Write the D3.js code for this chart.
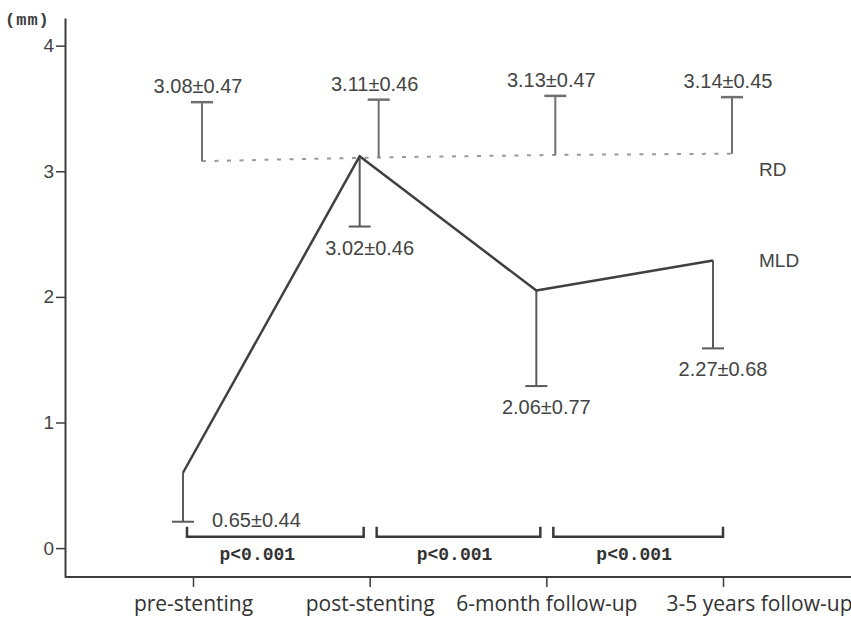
<!DOCTYPE html>
<html>
<head>
<meta charset="utf-8">
<script src="https://cdn.jsdelivr.net/npm/d3@7"></script>
<style>
  body { margin: 0; background: #fff; }
  svg { display: block; }
</style>
</head>
<body>
<div id="chart"></div>
<script>
const categories = ["pre-stenting", "post-stenting", "6-month follow-up", "3-5 years follow-up"];
const rdMean = [3.08, 3.11, 3.13, 3.14];
const rdSd = [0.47, 0.46, 0.47, 0.45];
const mldMean = [0.65, 3.02, 2.06, 2.27];
const mldSd = [0.44, 0.46, 0.77, 0.68];
// MLD line vertices as they are drawn in the figure
const mldDrawn = [0.6, 3.12, 2.05, 2.29];
const pLabels = ["p<0.001", "p<0.001", "p<0.001"];
const yTicks = [0, 1, 2, 3, 4];

const width = 851;
const height = 622;
const axisLeft = 65;
const axisBottom = 577;
const ink = "#3d3d3d";
const fmt = d3.format(".2f");

const svg = d3
  .select("#chart")
  .append("svg")
  .attr("width", width)
  .attr("height", height)
  .attr("viewBox", [0, 0, width, height]);

const x = d3.scalePoint().domain(categories).range([193, 723]);

const y = d3.scaleLinear().domain([-0.23, 4.22]).range([axisBottom, 18]);

const mldX = (i) => x(categories[i]) - 10;
const rdX = (i) => x(categories[i]) + 9;

/* AXES */
const yAxis = svg
  .append("g")
  .attr("transform", `translate(${axisLeft},0)`)
  .call(
    d3
      .axisLeft(y)
      .tickValues(yTicks)
      .tickFormat(d3.format("d"))
      .tickSize(9)
      .tickSizeOuter(0)
      .tickPadding(2)
  );

yAxis.select(".domain").attr("stroke", ink).attr("stroke-width", 2);
yAxis.selectAll(".tick line").attr("stroke", ink).attr("stroke-width", 1.5);
yAxis
  .selectAll(".tick text")
  .attr("fill", "#444")
  .style("font-family", "'Liberation Sans', Arial, sans-serif")
  .style("font-size", "19px");

const xAxis = svg
  .append("g")
  .attr("transform", `translate(0,${axisBottom})`)
  .call(d3.axisBottom(x).tickSize(10).tickSizeOuter(0).tickPadding(9));

xAxis.select(".domain").remove();
xAxis
  .append("line")
  .attr("x1", axisLeft)
  .attr("x2", width)
  .attr("stroke", ink)
  .attr("stroke-width", 2);
xAxis.selectAll(".tick line").attr("stroke", ink).attr("stroke-width", 1.5);
xAxis
  .selectAll(".tick text")
  .attr("fill", "#333")
  .style("font-family", "'Open Sans', sans-serif")
  .style("font-size", "21px")
  .each(function (d, i) {
    // the last label runs to the right edge of the picture
    if (i === categories.length - 1) {
      d3.select(this)
        .attr("text-anchor", "end")
        .attr("x", width - x(d) + 1);
    }
  });

svg
  .append("text")
  .attr("x", 5)
  .attr("y", 25)
  .attr("fill", ink)
  .style("font-family", "'Liberation Mono', monospace")
  .style("font-weight", "bold")
  .style("font-size", "17px")
  .style("letter-spacing", "1px")
  .text("(mm)");

/* RD */
const rdLine = d3
  .line()
  .x((d, i) => rdX(i))
  .y((d) => y(d));

svg
  .append("path")
  .datum(rdMean)
  .attr("fill", "none")
  .attr("stroke", "#9a9a9a")
  .attr("stroke-width", 2)
  .attr("stroke-dasharray", "4,8.5")
  .attr("d", rdLine);

const rd = svg
  .selectAll(".rd-bar")
  .data(rdMean)
  .join("g")
  .attr("class", "rd-bar");

rd.append("line")
  .attr("x1", (d, i) => rdX(i))
  .attr("x2", (d, i) => rdX(i))
  .attr("y1", (d) => y(d))
  .attr("y2", (d, i) => y(d + rdSd[i]))
  .attr("stroke", "#707070")
  .attr("stroke-width", 2);

rd.append("line")
  .attr("x1", (d, i) => rdX(i) - 11)
  .attr("x2", (d, i) => rdX(i) + 11)
  .attr("y1", (d, i) => y(d + rdSd[i]))
  .attr("y2", (d, i) => y(d + rdSd[i]))
  .attr("stroke", "#707070")
  .attr("stroke-width", 2.5);

rd.append("text")
  .attr("x", (d, i) => rdX(i) - 4)
  .attr("y", (d, i) => y(d + rdSd[i]) - 9)
  .attr("text-anchor", "middle")
  .attr("fill", "#444")
  .style("font-family", "'Liberation Sans', Arial, sans-serif")
  .style("font-size", "20px")
  .text((d, i) => `${fmt(d)}±${fmt(rdSd[i])}`);

/* MLD */
const mld = svg
  .selectAll(".mld-bar")
  .data(mldMean)
  .join("g")
  .attr("class", "mld-bar");

mld.append("line")
  .attr("x1", (d, i) => mldX(i))
  .attr("x2", (d, i) => mldX(i))
  .attr("y1", (d, i) => y(mldDrawn[i]))
  .attr("y2", (d, i) => y(d - mldSd[i]))
  .attr("stroke", "#5a5a5a")
  .attr("stroke-width", 2);

mld.append("line")
  .attr("x1", (d, i) => mldX(i) - 11)
  .attr("x2", (d, i) => mldX(i) + 11)
  .attr("y1", (d, i) => y(d - mldSd[i]))
  .attr("y2", (d, i) => y(d - mldSd[i]))
  .attr("stroke", "#5a5a5a")
  .attr("stroke-width", 2);

mld.append("text")
  .attr("x", (d, i) => (i === 0 ? mldX(i) + 29 : mldX(i) + 10))
  .attr("y", (d, i) => y(d - mldSd[i]) + (i === 0 ? 5 : 28))
  .attr("text-anchor", (d, i) => (i === 0 ? "start" : "middle"))
  .attr("fill", "#444")
  .style("font-family", "'Liberation Sans', Arial, sans-serif")
  .style("font-size", "20px")
  .text((d, i) => `${fmt(d)}±${fmt(mldSd[i])}`);

const mldLine = d3
  .line()
  .x((d, i) => mldX(i))
  .y((d) => y(d));

svg
  .append("path")
  .datum(mldDrawn)
  .attr("fill", "none")
  .attr("stroke", "#404040")
  .attr("stroke-width", 2.5)
  .attr("stroke-linejoin", "round")
  .attr("d", mldLine);

/* SERIES NAMES */
const names = [
  { name: "RD", value: rdMean[rdMean.length - 1] },
  { name: "MLD", value: mldDrawn[mldDrawn.length - 1] },
];

svg
  .selectAll(".series-name")
  .data(names)
  .join("text")
  .attr("class", "series-name")
  .attr("x", 759)
  .attr("y", (d, i) => y(d.value) + (i === 0 ? 22 : 7))
  .attr("fill", "#444")
  .style("font-family", "'Liberation Sans', Arial, sans-serif")
  .style("font-size", "19px")
  .text((d) => d.name);

/* P VALUE BRACKETS */
const bracketLevel = 0.09;
const brackets = pLabels.map((label, i) => ({
  label,
  x1: x(categories[i]) + (i === 0 ? -6 : 7),
  x2: x(categories[i + 1]) - (i < pLabels.length - 1 ? 6 : 0),
}));

const br = svg
  .selectAll(".bracket")
  .data(brackets)
  .join("g")
  .attr("class", "bracket");

br.append("path")
  .attr("fill", "none")
  .attr("stroke", "#3a3a3a")
  .attr("stroke-width", 2.5)
  .attr("d", (d) => {
    const by = y(bracketLevel);
    return `M${d.x1},${by - 10}V${by}H${d.x2}V${by - 10}`;
  });

br.append("text")
  .attr("x", (d, i) => (d.x1 + d.x2) / 2 - (i === 0 ? 18 : 4))
  .attr("y", y(bracketLevel) + 23)
  .attr("text-anchor", "middle")
  .attr("fill", "#333")
  .style("font-family", "'Liberation Mono', monospace")
  .style("font-weight", "bold")
  .style("font-size", "18px")
  .text((d) => d.label);
</script>
</body>
</html>
